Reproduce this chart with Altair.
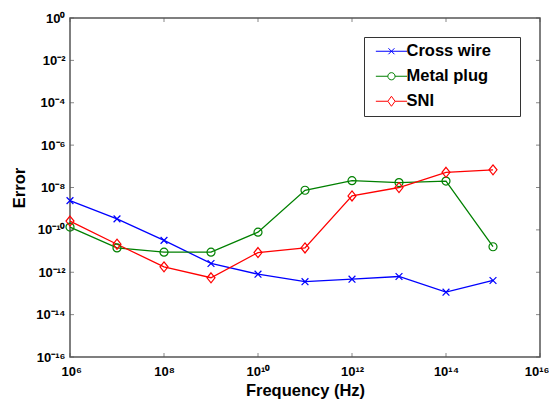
import altair as alt
import pandas as pd

freq = [1e6, 1e7, 1e8, 1e9, 1e10, 1e11, 1e12, 1e13, 1e14, 1e15]
cross_wire = [2.4e-9, 3.3e-10, 3.2e-11, 2.6e-12, 8.1e-13, 3.6e-13, 4.7e-13, 6.3e-13, 1.15e-13, 4.1e-13]
metal_plug = [1.35e-10, 1.4e-11, 8.9e-12, 8.9e-12, 7.8e-11, 7.4e-9, 2.1e-8, 1.7e-8, 2.0e-8, 1.6e-11]
sni = [2.6e-10, 2.1e-11, 1.8e-12, 5.5e-13, 8.5e-12, 1.4e-11, 4.0e-9, 1.0e-8, 5.2e-8, 6.8e-8]

series_names = ["Cross wire", "Metal plug", "SNI"]
series_colors = ["#0000ff", "#008000", "#ff0000"]

x_ticks = [1e6, 1e8, 1e10, 1e12, 1e14, 1e16]
x_tick_labels = ["10⁶", "10⁸", "10¹⁰", "10¹²", "10¹⁴", "10¹⁶"]
y_ticks = [1e-16, 1e-14, 1e-12, 1e-10, 1e-8, 1e-6, 1e-4, 1e-2, 1e0]
y_tick_labels = ["10⁻¹⁶", "10⁻¹⁴", "10⁻¹²", "10⁻¹⁰", "10⁻⁸", "10⁻⁶", "10⁻⁴", "10⁻²", "10⁰"]

W, H = 470, 339

rows = []
for name, vals in zip(series_names, [cross_wire, metal_plug, sni]):
    for f, v in zip(freq, vals):
        rows.append({"series": name, "freq": f, "err": v})
df = pd.DataFrame(rows)

xticks_df = pd.DataFrame({"xt": x_ticks})
yticks_df = pd.DataFrame({"yt": y_ticks})

xlab = "[" + ",".join("'%s'" % s for s in x_tick_labels) + "][round((log(datum.value)/LN10-6)/2)]"
ylab = "[" + ",".join("'%s'" % s for s in y_tick_labels) + "][round((log(datum.value)/LN10+16)/2)]"

xscale = alt.Scale(type="log", domain=[1e6, 1e16], nice=False)
yscale = alt.Scale(type="log", domain=[1e-16, 1e0], nice=False)

marker_paths = [
    "M-0.85,-0.85L0.85,0.85M-0.85,0.85L0.85,-0.85",
    "M-1,0A1,1 0 1,0 1,0A1,1 0 1,0 -1,0Z",
    "M0,-1.25L1,0L0,1.25L-1,0Z",
]
# legend symbols: short line with the marker in its middle (marker centre shifted right)
legend_paths = [
    "M-0.6,0L7.2,0M2.55,-0.75L4.05,0.75M2.55,0.75L4.05,-0.75",
    "M-0.6,0L2.4,0M4.2,0L7.2,0M2.4,0A0.9,0.9 0 1,0 4.2,0A0.9,0.9 0 1,0 2.4,0",
    "M-0.6,0L2.4,0M4.2,0L7.2,0M3.3,-1.25L4.2,0L3.3,1.25L2.4,0Z",
]

legend = alt.Legend(
    title=None,
    orient="none",
    legendX=294,
    legendY=19,
    fillColor="white",
    strokeColor="#333333",
    padding=6,
    labelFont="Liberation Sans",
    labelFontWeight="bold",
    labelFontSize=16.5,
    labelColor="black",
    labelOffset=20,
    labelExpr="datum.label + '\u00a0\u00a0\u00a0\u00a0\u00a0\u200b'",
    rowPadding=8,
    symbolStrokeWidth=1,
    symbolSize=64,
    symbolOpacity=1,
    symbolFillColor="transparent",
)

def color_enc(leg):
    return alt.Color("series:N", scale=alt.Scale(domain=series_names, range=series_colors), legend=leg)

x_enc = alt.X("freq:Q", scale=xscale,
              axis=alt.Axis(values=x_ticks, labelExpr=xlab, title="Frequency (Hz)", ticks=False,
                            domain=False, grid=False, labelPadding=8, titlePadding=4,
                            labelFlush=True, labelFlushOffset=9))
y_enc = alt.Y("err:Q", scale=yscale,
              axis=alt.Axis(values=y_ticks, labelExpr=ylab, title="Error", ticks=False,
                            domain=False, grid=False, labelPadding=5, titlePadding=8, labelFlush=False))

lines = alt.Chart(df).mark_line(strokeWidth=1.3).encode(
    x=x_enc, y=y_enc, color=color_enc(None), detail="series:N",
)
points = alt.Chart(df).mark_point(filled=False, size=64, strokeWidth=1.2, opacity=1).encode(
    x="freq:Q", y="err:Q", color=color_enc(None),
    shape=alt.Shape("series:N", scale=alt.Scale(domain=series_names, range=marker_paths), legend=None),
)
legend_layer = alt.Chart(df).mark_point(filled=False, size=64, strokeWidth=1).encode(
    x="freq:Q", y="err:Q", color=color_enc(legend),
    shape=alt.Shape("series:N", scale=alt.Scale(domain=series_names, range=legend_paths), legend=legend),
).transform_filter("false")

tick_color = "#555555"
bottom_ticks = alt.Chart(xticks_df).mark_tick(size=4, thickness=1, color=tick_color).encode(
    x=alt.X("xt:Q", scale=xscale), y=alt.value(H - 2))
top_ticks = alt.Chart(xticks_df).mark_tick(size=4, thickness=1, color=tick_color).encode(
    x=alt.X("xt:Q", scale=xscale), y=alt.value(2))
left_ticks = alt.Chart(yticks_df).mark_tick(size=4, thickness=1, color=tick_color).encode(
    y=alt.Y("yt:Q", scale=yscale), x=alt.value(2))
right_ticks = alt.Chart(yticks_df).mark_tick(size=4, thickness=1, color=tick_color).encode(
    y=alt.Y("yt:Q", scale=yscale), x=alt.value(W - 2))

chart = alt.layer(lines, points, legend_layer, bottom_ticks, top_ticks, left_ticks, right_ticks).resolve_scale(
    color="independent", shape="independent"
).properties(
    width=W, height=H,
    autosize=alt.AutoSizeParams(type="none"),
    padding={"left": 62, "top": 10, "right": 9, "bottom": 42},
    background="white",
).configure_view(
    stroke="#555555", strokeWidth=1.5
).configure_axis(
    labelFont="Liberation Sans", labelFontWeight="bold", labelFontSize=13, labelColor="black",
    titleFont="Liberation Sans", titleFontWeight="bold", titleFontSize=16.5, titleColor="black",
)

chart.save("out.html", embed_options={"renderer": "svg", "actions": False})
